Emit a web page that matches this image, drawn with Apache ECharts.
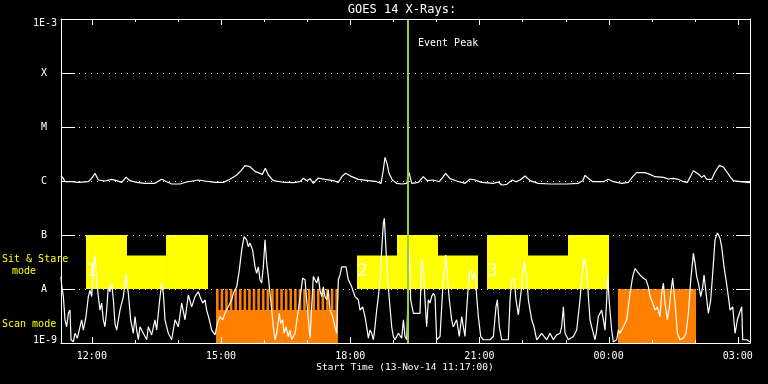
<!DOCTYPE html>
<html>
<head>
<meta charset="utf-8">
<script src="https://cdn.jsdelivr.net/npm/echarts@6/dist/echarts.min.js"></script>
<style>html,body{margin:0;padding:0;background:#000;}#c{width:768px;height:384px;}</style>
</head>
<body>
<div id="c"></div>
<script>
// ---- time axis: hours since 13-Nov-14 00:00 ----
const timeStart = 11.2833;   // 11:17
const timeEnd = 27.2833;     // 03:17 next day
const xTickValues = [12, 15, 18, 21, 24, 27];
const xTickLabels = ['12:00', '15:00', '18:00', '21:00', '00:00', '03:00'];
const xMinorTicks = [12,13,14,15,16,17,18,19,20,21,22,23,24,25,26,27];

// ---- flux axis: log10(W/m^2) ----
const yTickValues = [-9, -8, -7, -6, -5, -4, -3];
const yTickLabels = ['1E-9', 'A', 'B', 'C', 'M', 'X', '1E-3'];

const eventPeakTime = 19.335;

// GOES long channel (1-8 A), [hours, log10 flux]
const longChannel = [
[11.283,-5.907],[11.338,-5.95],[11.376,-6.013],[11.531,-6.013],[11.685,-6.025],[11.918,-6.013],[11.996,-5.95],[12.073,-5.858],[12.15,-5.981],[12.305,-6.0],
[12.46,-5.969],[12.576,-5.994],[12.692,-6.025],[12.793,-5.932],[12.886,-5.994],[13.041,-6.025],[13.234,-6.043],[13.466,-6.043],[13.622,-5.969],[13.738,-6.013],
[13.854,-6.056],[14.047,-6.056],[14.202,-6.019],[14.472,-5.981],[14.628,-6.0],[14.86,-6.025],[15.053,-6.025],[15.208,-5.969],[15.363,-5.889],[15.464,-5.809],
[15.557,-5.716],[15.672,-5.735],[15.789,-5.821],[15.905,-5.858],[15.958,-5.877],[16.028,-5.765],[16.098,-5.889],[16.214,-5.994],[16.409,-6.019],[16.678,-6.031],
[16.834,-6.013],[16.911,-5.95],[16.99,-5.994],[17.066,-5.957],[17.143,-6.043],[17.259,-5.944],[17.414,-5.969],[17.608,-5.994],[17.723,-6.025],[17.816,-5.907],
[17.895,-5.858],[18.034,-5.92],[18.188,-5.969],[18.42,-5.994],[18.615,-6.013],[18.715,-6.043],[18.768,-5.796],[18.808,-5.562],[18.854,-5.673],[18.9,-5.858],
[18.978,-5.981],[19.079,-6.043],[19.195,-6.056],[19.311,-6.043],[19.365,-5.839],[19.428,-6.043],[19.581,-6.025],[19.697,-5.92],[19.79,-5.994],[19.929,-5.981],
[20.069,-6.013],[20.217,-5.858],[20.317,-5.957],[20.473,-6.0],[20.666,-6.043],[20.782,-5.963],[20.898,-5.981],[21.053,-6.025],[21.323,-6.043],[21.439,-6.019],
[21.518,-6.074],[21.634,-6.062],[21.765,-5.981],[21.85,-6.013],[21.943,-5.981],[22.059,-5.907],[22.175,-5.994],[22.368,-6.043],[22.64,-6.056],[23.028,-6.056],
[23.297,-6.043],[23.399,-5.994],[23.452,-5.895],[23.529,-5.95],[23.631,-6.013],[23.878,-6.013],[23.994,-5.969],[24.11,-6.013],[24.305,-6.043],[24.458,-6.025],
[24.56,-5.92],[24.653,-5.846],[24.846,-5.846],[24.962,-5.877],[25.078,-5.92],[25.271,-5.932],[25.387,-5.963],[25.503,-5.95],[25.619,-5.969],[25.735,-6.013],
[25.828,-6.025],[25.907,-5.907],[25.968,-5.809],[26.084,-5.87],[26.163,-5.932],[26.216,-5.895],[26.279,-5.969],[26.395,-5.969],[26.472,-5.833],[26.573,-5.71],
[26.665,-5.741],[26.821,-5.92],[26.897,-5.994],[27.053,-6.013],[27.285,-6.031]
];

// GOES short channel (0.5-4 A), [hours, log10 flux]
const shortChannel = [
[11.283,-7.77],[11.299,-7.93],[11.338,-8.14],[11.376,-8.57],[11.415,-8.70],[11.454,-8.45],[11.492,-8.39],[11.516,-8.94],[11.57,-8.98],[11.608,-8.82],
[11.663,-8.91],[11.724,-8.70],[11.763,-8.57],[11.802,-8.76],[11.864,-8.51],[11.918,-8.14],[11.957,-8.02],[11.996,-8.14],[12.034,-7.65],[12.073,-7.37],
[12.112,-7.83],[12.15,-8.14],[12.189,-8.39],[12.228,-8.26],[12.266,-8.57],[12.305,-8.70],[12.344,-8.39],[12.382,-7.96],[12.421,-8.05],[12.46,-7.89],
[12.499,-8.20],[12.537,-8.64],[12.576,-8.76],[12.615,-8.57],[12.653,-8.39],[12.731,-8.14],[12.793,-7.71],[12.847,-8.08],[12.901,-8.57],[12.963,-8.82],
[13.002,-8.51],[13.041,-8.76],[13.079,-8.94],[13.118,-8.70],[13.195,-8.82],[13.273,-8.94],[13.311,-8.70],[13.389,-8.85],[13.466,-8.57],[13.505,-8.76],
[13.567,-8.26],[13.621,-7.89],[13.66,-8.08],[13.698,-8.57],[13.776,-8.82],[13.853,-8.94],[13.931,-8.57],[14.008,-8.70],[14.086,-8.26],[14.163,-8.57],
[14.24,-8.11],[14.318,-8.33],[14.395,-8.14],[14.473,-8.05],[14.511,-8.14],[14.573,-8.26],[14.627,-8.20],[14.666,-8.39],[14.728,-8.57],[14.782,-8.76],
[14.86,-8.85],[14.914,-8.64],[14.976,-8.51],[15.038,-8.57],[15.092,-8.45],[15.169,-8.33],[15.247,-8.20],[15.285,-8.08],[15.363,-7.96],[15.424,-7.65],
[15.479,-7.28],[15.533,-7.03],[15.595,-7.09],[15.634,-7.22],[15.672,-7.15],[15.734,-7.28],[15.789,-7.59],[15.827,-7.71],[15.866,-7.59],[15.905,-7.83],
[15.943,-7.89],[15.982,-7.59],[16.021,-7.09],[16.06,-7.52],[16.098,-7.77],[16.137,-8.08],[16.176,-8.39],[16.214,-8.70],[16.253,-8.94],[16.292,-8.82],
[16.353,-8.45],[16.384,-8.64],[16.431,-8.57],[16.462,-8.82],[16.508,-8.70],[16.563,-8.88],[16.601,-8.76],[16.64,-8.94],[16.718,-8.82],[16.795,-8.39],
[16.849,-8.08],[16.895,-7.80],[16.95,-7.83],[16.988,-8.20],[17.027,-8.57],[17.066,-8.91],[17.104,-8.33],[17.143,-7.77],[17.182,-7.83],[17.221,-7.89],
[17.259,-7.77],[17.298,-8.02],[17.337,-8.14],[17.375,-7.96],[17.414,-8.14],[17.453,-8.20],[17.491,-8.02],[17.53,-8.39],[17.592,-8.51],[17.646,-8.70],
[17.685,-8.82],[17.724,-7.83],[17.763,-7.74],[17.801,-7.59],[17.84,-7.56],[17.902,-7.59],[17.956,-7.83],[17.995,-7.80],[18.034,-7.96],[18.111,-8.14],
[18.188,-8.20],[18.227,-8.39],[18.289,-8.33],[18.343,-8.51],[18.382,-8.70],[18.421,-8.91],[18.459,-8.76],[18.498,-8.82],[18.537,-8.94],[18.575,-8.70],
[18.614,-8.39],[18.653,-8.14],[18.692,-7.83],[18.73,-7.28],[18.769,-6.78],[18.792,-6.69],[18.831,-7.28],[18.862,-7.71],[18.908,-8.20],[18.963,-8.70],
[19.001,-8.88],[19.04,-8.94],[19.118,-8.82],[19.195,-8.91],[19.234,-8.57],[19.272,-8.88],[19.311,-8.94],[19.373,-7.25],[19.404,-8.20],[19.466,-8.45],
[19.62,-8.45],[19.659,-7.46],[19.698,-7.59],[19.736,-8.20],[19.775,-8.70],[19.814,-8.20],[19.853,-8.26],[19.891,-8.14],[19.93,-8.08],[19.969,-8.14],
[20.007,-8.94],[20.085,-8.88],[20.146,-8.02],[20.177,-7.71],[20.216,-7.37],[20.255,-7.77],[20.301,-8.20],[20.355,-8.57],[20.394,-8.70],[20.471,-8.57],
[20.533,-8.88],[20.588,-8.51],[20.627,-8.70],[20.665,-8.88],[20.719,-8.20],[20.766,-7.71],[20.805,-7.65],[20.843,-7.83],[20.898,-7.71],[20.937,-8.14],
[20.975,-8.51],[21.03,-8.88],[21.092,-8.94],[21.246,-8.94],[21.324,-8.88],[21.385,-8.33],[21.416,-8.20],[21.463,-8.70],[21.517,-8.94],[21.672,-8.94],
[21.711,-8.20],[21.749,-7.83],[21.803,-7.80],[21.85,-8.20],[21.904,-8.48],[21.943,-8.51],[21.981,-7.96],[22.02,-7.59],[22.043,-7.49],[22.098,-7.77],
[22.136,-8.20],[22.214,-8.57],[22.268,-8.70],[22.33,-8.94],[22.446,-8.82],[22.562,-8.94],[22.64,-8.82],[22.717,-8.94],[22.794,-8.85],[22.872,-8.82],
[22.91,-8.70],[22.949,-8.33],[22.988,-8.82],[23.065,-8.94],[23.181,-8.88],[23.259,-8.76],[23.336,-8.20],[23.375,-7.83],[23.414,-7.52],[23.437,-7.43],
[23.491,-7.65],[23.53,-8.14],[23.568,-8.57],[23.607,-8.70],[23.646,-8.82],[23.685,-8.94],[23.723,-8.76],[23.762,-8.51],[23.801,-8.45],[23.839,-8.39],
[23.878,-8.57],[23.917,-8.76],[23.955,-8.20],[23.979,-7.77],[24.017,-8.26],[24.071,-8.76],[24.11,-8.98],[24.187,-8.94],[24.226,-8.76],[24.265,-8.82],
[24.342,-8.70],[24.42,-8.57],[24.497,-8.08],[24.559,-7.77],[24.613,-7.62],[24.667,-7.68],[24.729,-7.74],[24.807,-7.80],[24.869,-7.83],[24.923,-7.96],
[24.962,-8.14],[25.024,-8.26],[25.078,-8.39],[25.132,-8.33],[25.194,-8.51],[25.233,-8.08],[25.272,-7.89],[25.31,-8.26],[25.364,-8.57],[25.411,-8.33],
[25.442,-8.08],[25.488,-7.80],[25.543,-8.26],[25.597,-8.82],[25.659,-8.94],[25.736,-8.91],[25.798,-8.82],[25.853,-8.45],[25.907,-7.83],[25.969,-7.34],
[26.007,-7.52],[26.046,-7.77],[26.085,-7.89],[26.139,-8.14],[26.185,-7.96],[26.216,-7.74],[26.263,-8.08],[26.317,-8.45],[26.371,-8.20],[26.417,-7.71],
[26.471,-7.09],[26.525,-6.96],[26.587,-7.06],[26.626,-7.22],[26.68,-7.59],[26.727,-7.83],[26.781,-8.14],[26.82,-8.39],[26.882,-8.33],[26.936,-8.82],
[26.99,-8.57],[27.037,-8.45],[27.091,-8.33],[27.114,-8.94],[27.207,-8.94],[27.285,-8.98]
];

// Sit & Stare mode intervals (hours), top level (log10), block number label (0 = none)
const sitStareStart = [11.864, 12.816, 13.722, 18.157, 19.086, 20.038, 21.176, 22.128, 23.057];
const sitStareEnd   = [12.816, 13.722, 14.697, 19.086, 20.038, 20.967, 22.128, 23.057, 24.009];
const sitStareTop   = [-7, -7.38, -7, -7.38, -7, -7.38, -7, -7.38, -7];
const sitStareBlock = [1, 0, 0, 2, 0, 0, 3, 0, 0];
const sitStareBase = -8;

// Scan mode: continuous coverage and individual scans (hours)
const scanSolidStart = [14.883, 24.218];
const scanSolidEnd   = [17.716, 26.030];
const scanSolidTop   = [-8.39, -8];
const scanStart = [14.883,14.990,15.096,15.203,15.309,15.416,15.523,15.629,15.736,15.842,15.949,16.056,16.162,16.269,16.375,16.482,16.589,16.695,16.802,16.908,17.015,17.122,17.228,17.335,17.441,17.548,17.655];
const scanEnd   = [14.943,15.050,15.156,15.263,15.369,15.476,15.583,15.689,15.796,15.902,16.009,16.116,16.222,16.329,16.435,16.542,16.649,16.755,16.862,16.968,17.075,17.182,17.288,17.395,17.501,17.608,17.716];
const scanTop = -8;
const scanBase = -9;

const FONT = 'DejaVu Sans Mono';

const sitData = sitStareStart.map((s, i) => [s, sitStareEnd[i], sitStareBase, sitStareTop[i], sitStareBlock[i]]);
const scanData = scanSolidStart.map((s, i) => [s, scanSolidEnd[i], scanBase, scanSolidTop[i], 0])
  .concat(scanStart.map((s, i) => [s, scanEnd[i], scanSolidTop[0], scanTop, 0]));
const tickData = xMinorTicks.map(v => [v, xTickValues.indexOf(v) >= 0 ? 1 : 0]);

function rectRenderer(color) {
  return function (params, api) {
    const t0 = api.value(0), t1 = api.value(1), lo = api.value(2), hi = api.value(3), blk = api.value(4);
    const a = api.coord([t0, hi]);
    const b = api.coord([t1, lo]);
    const children = [{
      type: 'rect',
      shape: { x: a[0], y: a[1], width: b[0] - a[0], height: b[1] - a[1] },
      style: { fill: color }
    }];
    if (blk > 0) {
      const p = api.coord([t0, -7.685]);
      children.push({
        type: 'text',
        x: p[0] + 0.5, y: p[1],
        style: { text: String(blk), fill: '#ffffe0', font: '17px ' + FONT, align: 'left', verticalAlign: 'middle' }
      });
    }
    return { type: 'group', children: children };
  };
}

// time-axis ticks (top and bottom, pointing inward), placed through the axis scale
function tickRenderer(params, api) {
  const v = api.value(0), major = api.value(1) > 0;
  const len = major ? 6 : 3;
  const b = api.coord([v, -9]);
  const t = api.coord([v, -3]);
  const x = Math.round(b[0]) + 0.5;
  return {
    type: 'group',
    children: [
      { type: 'line', shape: { x1: x, y1: b[1], x2: x, y2: b[1] - len }, style: { stroke: '#ffffff', lineWidth: 1 } },
      { type: 'line', shape: { x1: x, y1: t[1], x2: x, y2: t[1] + len }, style: { stroke: '#ffffff', lineWidth: 1 } }
    ]
  };
}

const chart = echarts.init(document.getElementById('c'), null, { renderer: 'canvas' });

const axisLineStyle = { show: true, lineStyle: { color: '#ffffff', width: 1 } };

const option = {
  backgroundColor: '#000000',
  animation: false,
  grid: { left: 61, right: 18, top: 19, bottom: 41, containLabel: false },
  xAxis: [
    {
      type: 'value', min: timeStart, max: timeEnd, position: 'bottom', z: 10,
      axisLine: axisLineStyle,
      axisTick: { show: false },
      axisLabel: {
        show: true, customValues: xTickValues, color: '#ffffff', fontFamily: FONT, fontSize: 10, margin: 8,
        formatter: v => { const i = xTickValues.findIndex(t => Math.abs(t - v) < 1e-6); return i >= 0 ? xTickLabels[i] : ''; }
      },
      splitLine: { show: false }
    },
    {
      type: 'value', min: timeStart, max: timeEnd, position: 'top', z: 10,
      axisLine: axisLineStyle,
      axisTick: { show: false },
      axisLabel: { show: false },
      splitLine: { show: false }
    }
  ],
  yAxis: [
    {
      type: 'value', min: -9, max: -3, interval: 1, position: 'left', z: 10,
      axisLine: axisLineStyle,
      axisTick: { show: true, inside: true, length: 14, lineStyle: { color: '#ffffff' } },
      axisLabel: {
        show: true, margin: 4, color: '#ffffff', fontFamily: FONT, fontSize: 10,
        formatter: v => {
          const i = yTickValues.indexOf(Math.round(v));
          const s = yTickLabels[i];
          if (i === yTickValues.length - 1) return '{top|' + s + '}';
          if (i === 0) return '{bot|' + s + '}';
          return '{l|' + s + '}';
        },
        rich: {
          top: { color: '#ffffff', fontFamily: FONT, fontSize: 10, padding: [8, 0, 0, 0] },
          bot: { color: '#ffffff', fontFamily: FONT, fontSize: 10, padding: [0, 0, 6, 0] },
          l: { color: '#ffffff', fontFamily: FONT, fontSize: 10, padding: [0, 10, 0, 0] }
        }
      },
      splitLine: { show: true, lineStyle: { color: '#ffffff', width: 1, type: [1, 5] } }
    },
    {
      type: 'value', min: -9, max: -3, interval: 1, position: 'right', z: 10,
      axisLine: axisLineStyle,
      axisTick: { show: true, inside: true, length: 14, lineStyle: { color: '#ffffff' } },
      axisLabel: { show: false },
      splitLine: { show: false }
    }
  ],
  series: [
    {
      type: 'custom', name: 'Sit & Stare', xAxisIndex: 0, yAxisIndex: 0, z: 2,
      renderItem: rectRenderer('#ffff00'),
      encode: { x: [0, 1], y: [2, 3] },
      data: sitData, clip: true
    },
    {
      type: 'custom', name: 'Scan', xAxisIndex: 0, yAxisIndex: 0, z: 2,
      renderItem: rectRenderer('#ff8000'),
      encode: { x: [0, 1], y: [2, 3] },
      data: scanData, clip: true
    },
    {
      type: 'line', name: 'short', xAxisIndex: 0, yAxisIndex: 0, z: 3,
      data: shortChannel, showSymbol: false, symbol: 'none', clip: true,
      lineStyle: { color: '#ffffff', width: 1.2 }
    },
    {
      type: 'line', name: 'long', xAxisIndex: 0, yAxisIndex: 0, z: 3,
      data: longChannel, showSymbol: false, symbol: 'none', clip: true,
      lineStyle: { color: '#ffffff', width: 1.2 },
      markLine: {
        silent: true, symbol: ['none', 'none'], label: { show: false },
        lineStyle: { color: '#9acd32', width: 2, type: 'solid' },
        data: [{ xAxis: eventPeakTime }]
      }
    },
    {
      type: 'custom', name: 'timeTicks', xAxisIndex: 0, yAxisIndex: 0, z: 12,
      renderItem: tickRenderer, encode: { x: 0 },
      data: tickData, clip: false, silent: true
    }
  ],
  graphic: [
    { type: 'text', x: 402, y: 10, style: { text: 'GOES 14 X-Rays:', fill: '#ffffff', font: '12px ' + FONT, align: 'center', verticalAlign: 'middle' } },
    { type: 'text', x: 418, y: 43, style: { text: 'Event Peak', fill: '#ffffff', font: '10px ' + FONT, align: 'left', verticalAlign: 'middle' } },
    { type: 'text', x: 2, y: 259, style: { text: 'Sit & Stare', fill: '#ffff00', font: '10px ' + FONT, align: 'left', verticalAlign: 'middle' } },
    { type: 'text', x: 12, y: 271, style: { text: 'mode', fill: '#ffff00', font: '10px ' + FONT, align: 'left', verticalAlign: 'middle' } },
    { type: 'text', x: 2, y: 324, style: { text: 'Scan mode', fill: '#ffff00', font: '10px ' + FONT, align: 'left', verticalAlign: 'middle' } },
    { type: 'text', x: 405, y: 368, style: { text: 'Start Time (13-Nov-14 11:17:00)', fill: '#ffffff', font: '9.5px ' + FONT, align: 'center', verticalAlign: 'middle' } }
  ]
};
chart.setOption(option);
</script>
</body>
</html>
